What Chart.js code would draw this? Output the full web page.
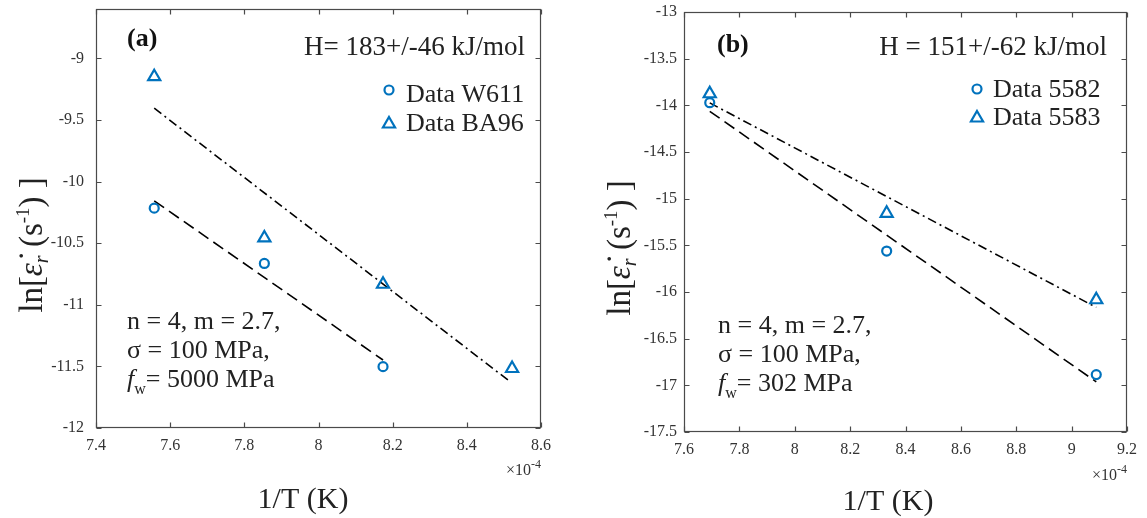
<!DOCTYPE html>
<html><head><meta charset="utf-8">
<script src="https://cdn.jsdelivr.net/npm/chart.js@4/dist/chart.umd.min.js"></script>
<style>
html,body{margin:0;padding:0;background:#fff;width:1147px;height:518px;overflow:hidden}
.p{position:absolute;top:0}
</style></head><body>
<div class="p" style="left:0;width:575px;height:518px"><canvas id="ca" width="575" height="518" style="width:575px;height:518px"></canvas></div>
<div class="p" style="left:575px;width:572px;height:518px"><canvas id="cb" width="572" height="518" style="width:572px;height:518px"></canvas></div>
<script>
// ---------- Panel (a) data ----------
const xW611 = [7.557, 7.854, 8.174];
const yW611 = [-10.215, -10.664, -11.502];
const xBA96 = [7.557, 7.854, 8.174, 8.522];
const yBA96 = [-9.148, -10.457, -10.833, -11.517];
const fitW611X = [7.557, 8.174];
const fitW611Y = [-10.156, -11.448];
const fitBA96X = [7.557, 8.515];
const fitBA96Y = [-9.404, -11.62];
const xTicksA = [7.4, 7.6, 7.8, 8, 8.2, 8.4, 8.6];
const yTicksA = [-12, -11.5, -11, -10.5, -10, -9.5, -9];
const yRangeA = [-12, -8.6];

// ---------- Panel (b) data ----------
const x5582 = [7.693, 8.332, 9.089];
const y5582 = [-13.972, -15.561, -16.885];
const x5583 = [7.693, 8.332, 9.089];
const y5583 = [-13.876, -15.157, -16.083];
const fit5582X = [7.693, 9.089];
const fit5582Y = [-14.064, -16.963];
const fit5583X = [7.693, 9.089];
const fit5583Y = [-13.974, -16.165];
const xTicksB = [7.6, 7.8, 8, 8.2, 8.4, 8.6, 8.8, 9, 9.2];
const yTicksB = [-17.5, -17, -16.5, -16, -15.5, -15, -14.5, -14, -13.5, -13];
const yRangeB = [-17.5, -13];

const SERIF = '"Liberation Serif","Times New Roman",serif';
const BLUE = '#0072BD';
const TXT = '#222';

function fnt(size, style, weight) { return (style||'') + ' ' + (weight||'') + ' ' + size + 'px ' + SERIF; }
function drawRuns(ctx, runs, x, y, align) {
  let w = 0;
  runs.forEach(r => { ctx.font = fnt(r.size, r.style, r.weight); r.w = ctx.measureText(r.t).width; w += r.w; });
  let cx = align === 'center' ? x - w / 2 : align === 'right' ? x - w : x;
  ctx.textAlign = 'left'; ctx.textBaseline = 'alphabetic';
  runs.forEach(r => { ctx.font = fnt(r.size, r.style, r.weight); ctx.fillStyle = r.color || TXT; ctx.fillText(r.t, cx, y + (r.dy || 0)); cx += r.w; });
}
function drawMarker(ctx, style, x, y, r) {
  ctx.save(); ctx.strokeStyle = BLUE; ctx.lineWidth = 2.2; ctx.beginPath();
  if (style === 'triangle') {
    for (let i = 0; i < 3; i++) { const ang = i * 2 * Math.PI / 3; const px = x + Math.sin(ang) * r, py = y - Math.cos(ang) * r; i ? ctx.lineTo(px, py) : ctx.moveTo(px, py); }
    ctx.closePath();
  } else { ctx.arc(x, y, r, 0, Math.PI * 2); }
  ctx.stroke(); ctx.restore();
}

const annotPlugin = {
  id: 'annot',
  afterDraw(chart, args, o) {
    const ctx = chart.ctx, a = chart.chartArea, xs = chart.scales.x, ys = chart.scales.y;
    ctx.save();
    const L = Math.round(a.left) + 0.5, R = Math.round(a.right) - 0.5, T = Math.round(a.top) + 0.5, B = Math.round(a.bottom) - 0.5;
    ctx.strokeStyle = '#4a4a4a'; ctx.lineWidth = 1.2;
    ctx.strokeRect(L, T, R - L, B - T);
    ctx.beginPath();
    const tl = 5;
    xs.ticks.forEach(t => { const px = Math.round(xs.getPixelForValue(t.value)) + 0.5; ctx.moveTo(px, B); ctx.lineTo(px, B - tl); ctx.moveTo(px, T); ctx.lineTo(px, T + tl); });
    ys.ticks.forEach(t => { const py = Math.round(ys.getPixelForValue(t.value)) + 0.5; ctx.moveTo(L, py); ctx.lineTo(L + tl, py); ctx.moveTo(R, py); ctx.lineTo(R - tl, py); });
    ctx.stroke();

    drawRuns(ctx, [{t: o.tag, size: 26, weight: 'bold', color: '#111'}], o.tagX, o.tagY, 'left');
    drawRuns(ctx, [{t: o.H, size: 27}], o.hX, o.hY, 'right');
    const ds = chart.data.datasets.filter(d => !d.showLine);
    ds.forEach((d, i) => {
      drawMarker(ctx, d.pointStyle, o.legX, o.legMY[i], d.pointStyle === 'triangle' ? 7 : 4.5);
      drawRuns(ctx, [{t: d.label, size: 26}], o.legTX, o.legTY[i], 'left');
    });
    drawRuns(ctx, [{t: 'n = 4, m = 2.7,', size: 26}], o.parX, o.parY[0], 'left');
    drawRuns(ctx, [{t: 'σ = 100 MPa,', size: 26}], o.parX, o.parY[1], 'left');
    drawRuns(ctx, [{t: 'f', size: 26, style: 'italic'}, {t: 'w', size: 16, dy: 7}, {t: '= ' + o.fw + ' MPa', size: 26}], o.parX, o.parY[2], 'left');
    drawRuns(ctx, [{t: '×10', size: 16, color: '#333'}, {t: '-4', size: 12, dy: -7, color: '#333'}], a.right, o.expY, 'right');
    drawRuns(ctx, [{t: '1/T (K)', size: 30}], o.xtX, o.xtY, 'center');
    ctx.save();
    ctx.translate(o.ytX, o.ytY); ctx.rotate(-Math.PI / 2);
    drawRuns(ctx, [
      {t: 'ln[', size: 33},
      {t: 'ε̇', size: 33, style: 'italic'},
      {t: 'r', size: 20, style: 'italic', dy: 6},
      {t: ' (s', size: 33},
      {t: '-1', size: 19, dy: -13},
      {t: ') ]', size: 33}
    ], 0, 0, 'center');
    ctx.restore();
    ctx.restore();
  }
};

function pts(xs, ys) { return xs.map((x, i) => ({x: x, y: ys[i]})); }
function fmt(v) { return String(Math.round(v * 100) / 100); }

function makeChart(id, cfg) {
  return new Chart(document.getElementById(id), {
    type: 'scatter',
    data: { datasets: [
      { label: cfg.names[0], data: pts(cfg.p1x, cfg.p1y), pointStyle: 'circle', pointRadius: 4.5, borderColor: BLUE, backgroundColor: 'rgba(0,0,0,0)', borderWidth: 2.2, showLine: false },
      { label: cfg.names[1], data: pts(cfg.p2x, cfg.p2y), pointStyle: 'triangle', pointRadius: 7, borderColor: BLUE, backgroundColor: 'rgba(0,0,0,0)', borderWidth: 2.2, showLine: false },
      { label: 'fit1', data: pts(cfg.f1x, cfg.f1y), showLine: true, pointRadius: 0, borderColor: '#000', borderWidth: 1.6, borderDash: [12, 6], fill: false },
      { label: 'fit2', data: pts(cfg.f2x, cfg.f2y), showLine: true, pointRadius: 0, borderColor: '#000', borderWidth: 1.6, borderDash: [9, 4, 2, 4], fill: false }
    ]},
    options: {
      responsive: false, animation: false,
      layout: { padding: cfg.pad },
      plugins: { legend: { display: false }, tooltip: { enabled: false }, annot: cfg.annot },
      scales: {
        x: {
          type: 'linear', min: cfg.xt[0], max: cfg.xt[cfg.xt.length - 1],
          grid: { display: false, drawTicks: false }, border: { display: false },
          afterBuildTicks: s => { s.ticks = cfg.xt.map(v => ({value: v})); },
          afterFit: s => { s.height = cfg.xh; s.paddingLeft = 0; s.paddingRight = 0; },
          ticks: { autoSkip: false, maxRotation: 0, padding: 8, color: '#333', font: { family: SERIF, size: 16 }, callback: v => fmt(v) }
        },
        y: {
          type: 'linear', min: cfg.yr[0], max: cfg.yr[1],
          grid: { display: false, drawTicks: false }, border: { display: false },
          afterBuildTicks: s => { s.ticks = cfg.yt.map(v => ({value: v})); },
          afterFit: s => { s.width = cfg.yw; s.paddingTop = 0; s.paddingBottom = 0; },
          ticks: { autoSkip: false, padding: cfg.ypad, color: '#333', font: { family: SERIF, size: 16 }, callback: v => fmt(v) }
        }
      }
    },
    plugins: [annotPlugin]
  });
}

makeChart('ca', {
  names: ['Data W611', 'Data BA96'],
  p1x: xW611, p1y: yW611, p2x: xBA96, p2y: yBA96,
  f1x: fitW611X, f1y: fitW611Y, f2x: fitBA96X, f2y: fitBA96Y,
  xt: xTicksA, yt: yTicksA, yr: yRangeA,
  pad: { left: 0, top: 7, right: 34, bottom: 0 }, xh: 90, yw: 96, ypad: 12,
  annot: { tag: '(a)', tagX: 127, tagY: 46, H: 'H= 183+/-46 kJ/mol', hX: 525, hY: 55,
    legX: 389, legMY: [90, 124], legTX: 406, legTY: [102, 131],
    parX: 127, parY: [329, 358, 387], fw: '5000', expY: 475,
    xtX: 303, xtY: 508, ytX: 42, ytY: 245 }
});

makeChart('cb', {
  names: ['Data 5582', 'Data 5583'],
  p1x: x5582, p1y: y5582, p2x: x5583, p2y: y5583,
  f1x: fit5582X, f1y: fit5582Y, f2x: fit5583X, f2y: fit5583Y,
  xt: xTicksB, yt: yTicksB, yr: yRangeB,
  pad: { left: 0, top: 12, right: 20, bottom: 0 }, xh: 86, yw: 109, ypad: 7,
  annot: { tag: '(b)', tagX: 142, tagY: 52, H: 'H = 151+/-62 kJ/mol', hX: 532, hY: 55,
    legX: 402, legMY: [89, 118], legTX: 418, legTY: [97, 125],
    parX: 143, parY: [333, 362, 391], fw: '302', expY: 480,
    xtX: 313, xtY: 510, ytX: 55, ytY: 248 }
});
</script>
</body></html>
